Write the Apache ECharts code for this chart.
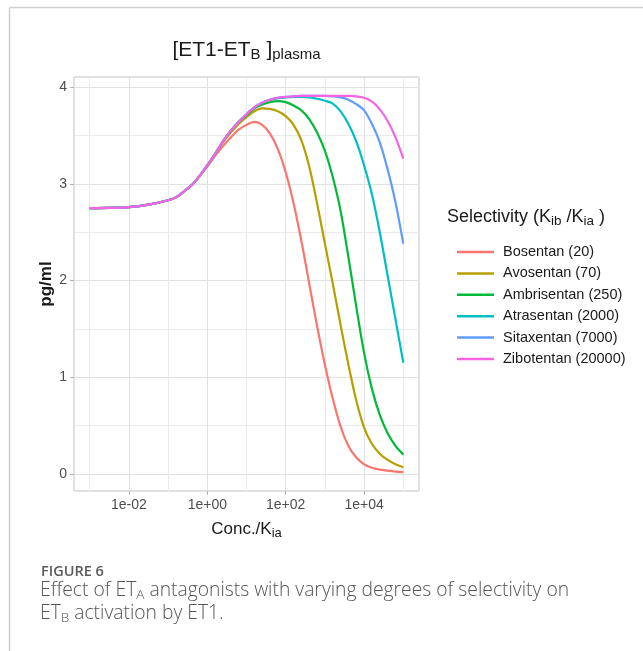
<!DOCTYPE html>
<html>
<head>
<meta charset="utf-8">
<script src="https://cdn.jsdelivr.net/npm/echarts@6/dist/echarts.min.js"></script>
<style>
  html, body { margin: 0; padding: 0; background: #fff; }
  #charts { width: 643px; height: 651px; }
</style>
</head>
<body>
<div id="charts"></div>
<script>
// log10 of Conc./Kia
var logConc = [-3, -2.5, -2, -1.5,
  -1, -0.8, -0.6, -0.4, -0.2, 0, 0.2, 0.4, 0.6, 0.8,
  1, 1.2, 1.4, 1.6, 1.8, 2, 2.2, 2.4, 2.6, 2.8,
  3, 3.2, 3.4, 3.6, 3.8, 4, 4.2, 4.4, 4.6, 4.8, 5];

var drugNames = ['Bosentan (20)', 'Avosentan (70)', 'Ambrisentan (250)',
  'Atrasentan (2000)', 'Sitaxentan (7000)', 'Zibotentan (20000)'];
var drugColors = ['#F8766D', '#B79F00', '#00BA38', '#00BFC4', '#619CFF', '#F564E3'];

// [ET1-ETB] plasma, pg/ml
var bosentan = [2.75, 2.752, 2.76, 2.785,
  2.83, 2.86, 2.92, 2.985, 3.08, 3.18, 3.29, 3.39, 3.48, 3.56,
  3.61, 3.64, 3.61, 3.52, 3.36, 3.12, 2.80, 2.41, 1.97, 1.53,
  1.13, 0.78, 0.49, 0.29, 0.17, 0.10, 0.065, 0.045, 0.035, 0.025, 0.02];
var avosentan = [2.75, 2.752, 2.76, 2.785,
  2.83, 2.86, 2.92, 2.985, 3.08, 3.19, 3.31, 3.43, 3.53, 3.62,
  3.69, 3.75, 3.78, 3.775, 3.75, 3.70, 3.61, 3.45, 3.18, 2.80,
  2.38, 1.97, 1.54, 1.13, 0.76, 0.48, 0.31, 0.21, 0.145, 0.10, 0.07];
var ambrisentan = [2.75, 2.752, 2.76, 2.785,
  2.83, 2.86, 2.92, 2.985, 3.08, 3.19, 3.31, 3.44, 3.55, 3.64,
  3.71, 3.78, 3.82, 3.845, 3.855, 3.845, 3.81, 3.76, 3.67, 3.53,
  3.34, 3.07, 2.72, 2.24, 1.73, 1.25, 0.88, 0.61, 0.42, 0.29, 0.20];
var atrasentan = [2.75, 2.752, 2.76, 2.785,
  2.83, 2.86, 2.92, 2.985, 3.08, 3.19, 3.31, 3.44, 3.55, 3.64,
  3.72, 3.79, 3.84, 3.87, 3.885, 3.895, 3.90, 3.90, 3.895, 3.88,
  3.86, 3.83, 3.75, 3.62, 3.44, 3.19, 2.89, 2.50, 2.05, 1.60, 1.15];
var sitaxentan = [2.75, 2.752, 2.76, 2.785,
  2.83, 2.86, 2.92, 2.985, 3.08, 3.19, 3.31, 3.44, 3.55, 3.64,
  3.72, 3.79, 3.84, 3.87, 3.89, 3.90, 3.905, 3.91, 3.91, 3.91,
  3.91, 3.905, 3.895, 3.87, 3.825, 3.76, 3.62, 3.43, 3.15, 2.81, 2.38];
var zibotentan = [2.75, 2.752, 2.76, 2.785,
  2.83, 2.86, 2.92, 2.985, 3.08, 3.19, 3.31, 3.44, 3.55, 3.64,
  3.72, 3.79, 3.84, 3.87, 3.89, 3.90, 3.905, 3.91, 3.91, 3.91,
  3.91, 3.91, 3.91, 3.91, 3.905, 3.89, 3.85, 3.77, 3.65, 3.48, 3.26];

var xTickExp = [-2, 0, 2, 4];
var xTickLabels = ['1e-02', '1e+00', '1e+02', '1e+04'];
var yTicks = [0, 1, 2, 3, 4];

var allValues = [bosentan, avosentan, ambrisentan, atrasentan, sitaxentan, zibotentan];

var font = '"Liberation Sans", Arial, sans-serif';
var capFont = '"Open Sans", sans-serif';

var myChart = echarts.init(document.getElementById('charts'), null, { renderer: 'canvas' });

var series = drugNames.map(function (name, k) {
  return {
    name: name,
    type: 'line',
    symbol: 'none',
    smooth: 0.3,
    lineStyle: { color: drugColors[k], width: 2.2 },
    itemStyle: { color: drugColors[k] },
    data: logConc.map(function (x, i) { return [x, allValues[k][i]]; })
  };
});

var option = {
  backgroundColor: '#ffffff',
  animation: false,
  grid: {
    left: 74, top: 77, width: 345, height: 414,
    show: true, borderColor: '#BEBEBE', borderWidth: 1, backgroundColor: '#fff'
  },
  xAxis: {
    type: 'value',
    min: -3.4, max: 5.4,
    minInterval: 2, maxInterval: 2,
    name: 'Conc./K{s|ia}',
    nameLocation: 'middle',
    nameGap: 27,
    nameTextStyle: {
      fontFamily: font, fontSize: 17, color: '#1a1a1a',
      rich: { s: { fontFamily: font, fontSize: 13, padding: [9, 0, 0, 0], color: '#1a1a1a' } }
    },
    axisLine: { show: false, onZero: false },
    axisTick: { show: true, length: 4, lineStyle: { color: '#B3B3B3' } },
    axisLabel: {
      margin: 7, color: '#4D4D4D', fontFamily: font, fontSize: 14,
      showMinLabel: false, showMaxLabel: false,
      formatter: function (v) {
        var i = xTickExp.indexOf(Math.round(v * 1000) / 1000);
        return i >= 0 ? xTickLabels[i] : '';
      }
    },
    splitLine: { show: true, lineStyle: { color: '#E2E2E2', width: 1 } },
    minorTick: { show: false, splitNumber: 2 },
    minorSplitLine: { show: true, lineStyle: { color: '#EAEAEA', width: 1 } }
  },
  yAxis: {
    type: 'value',
    min: -0.176, max: 4.105,
    minInterval: 1, maxInterval: 1,
    name: 'pg/ml',
    nameLocation: 'middle',
    nameGap: 19,
    nameMoveOverlap: false,
    nameTextStyle: { fontFamily: font, fontSize: 17, fontWeight: 'bold', color: '#1a1a1a' },
    axisLine: { show: false, onZero: false },
    axisTick: { show: true, length: 4, lineStyle: { color: '#B3B3B3' } },
    axisLabel: {
      margin: 7, color: '#4D4D4D', fontFamily: font, fontSize: 14,
      showMinLabel: false, showMaxLabel: false,
      formatter: function (v) {
        var r = Math.round(v * 1000) / 1000;
        return yTicks.indexOf(r) >= 0 ? String(r) : '';
      }
    },
    splitLine: { show: true, lineStyle: { color: '#E2E2E2', width: 1 } },
    minorTick: { show: false, splitNumber: 2 },
    minorSplitLine: { show: true, lineStyle: { color: '#EAEAEA', width: 1 } }
  },
  legend: {
    orient: 'vertical',
    left: 452, top: 239,
    icon: 'rect',
    itemWidth: 37, itemHeight: 2.5, itemGap: 5.4,
    data: drugNames,
    textStyle: { fontFamily: font, fontSize: 14.5, color: '#1a1a1a', lineHeight: 16, padding: [0, 0, 0, 4] }
  },
  graphic: [
    { type: 'line', shape: { x1: 9.5, y1: 7.5, x2: 643, y2: 7.5 }, style: { stroke: '#D0D0D0', lineWidth: 1.5 } },
    { type: 'line', shape: { x1: 9.5, y1: 7.5, x2: 9.5, y2: 651 }, style: { stroke: '#D0D0D0', lineWidth: 1.5 } },
    {
      type: 'text', x: 246.5, y: 50,
      style: {
        text: '[ET1-ET{s|B} ]{s|plasma}',
        font: '21px ' + font, fill: '#1a1a1a', align: 'center', verticalAlign: 'middle',
        rich: { s: { fontFamily: font, fontSize: 15, padding: [10, 0, 0, 0], fill: '#1a1a1a' } }
      }
    },
    {
      type: 'text', x: 447, y: 217,
      style: {
        text: 'Selectivity (K{s|ib} /K{s|ia} )',
        font: '18px ' + font, fill: '#1a1a1a', align: 'left', verticalAlign: 'middle',
        rich: { s: { fontFamily: font, fontSize: 13.5, padding: [9, 0, 0, 0], fill: '#1a1a1a' } }
      }
    },
    {
      type: 'text', x: 41, y: 572,
      style: { text: 'FIGURE 6', font: '600 14.5px ' + capFont, fill: '#5a5a5a', verticalAlign: 'middle' }
    },
    {
      type: 'text', x: 40, y: 591,
      style: {
        text: 'Effect of ET{s|A} antagonists with varying degrees of selectivity on',
        font: '300 19.3px ' + capFont, fill: '#555', verticalAlign: 'middle',
        rich: { s: { fontFamily: capFont, fontWeight: 300, fontSize: 13.5, padding: [9, 0, 0, 0], fill: '#555' } }
      }
    },
    {
      type: 'text', x: 40, y: 614,
      style: {
        text: 'ET{s|B} activation by ET1.',
        font: '300 19.3px ' + capFont, fill: '#555', verticalAlign: 'middle',
        rich: { s: { fontFamily: capFont, fontWeight: 300, fontSize: 13.5, padding: [9, 0, 0, 0], fill: '#555' } }
      }
    }
  ],
  series: series
};

myChart.setOption(option);
</script>
</body>
</html>
